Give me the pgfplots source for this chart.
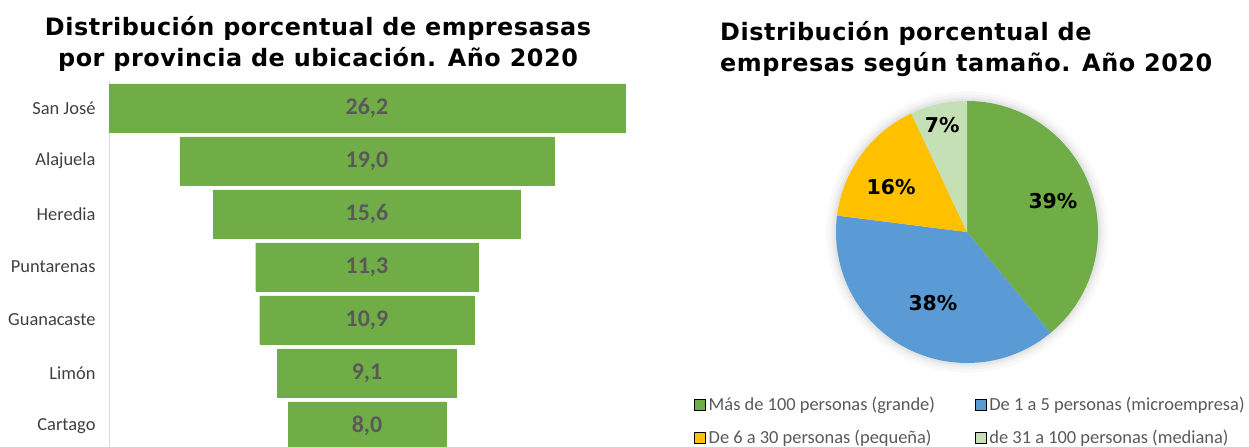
\documentclass[border=0pt]{standalone}
\usepackage{fontspec}
\setmainfont{Carlito}
\newfontfamily\vfont{DejaVu Sans}[LetterSpace=2.2]
\newfontfamily\pfont{DejaVu Sans}
\usepackage{pgfplots}
\usepackage{pgfplotstable}
\pgfplotsset{compat=1.18}
\definecolor{gbar}{HTML}{70AD47}
\definecolor{pgreen}{HTML}{70AD47}
\definecolor{pblue}{HTML}{5B9BD5}
\definecolor{pyellow}{HTML}{FFC000}
\definecolor{plight}{HTML}{C5E0B4}
\definecolor{valgray}{HTML}{595959}
\definecolor{labgray}{HTML}{404040}
\definecolor{axgray}{HTML}{D9D9D9}

\pgfplotstableread{
y v name
0 26.2 {San José}
1 19.0 {Alajuela}
2 15.6 {Heredia}
3 11.3 {Puntarenas}
4 10.9 {Guanacaste}
5 9.1 {Limón}
6 8.0 {Cartago}
}\provdata

\pgfplotstableread{
p x y
39 0.656 0.237
38 -0.26 -0.542
16 -0.58 0.344
7 -0.19 0.817
}\piedata

\pgfplotstablegetelem{0}{p}\of\piedata \edef\pA{\pgfplotsretval}
\pgfplotstablegetelem{1}{p}\of\piedata \edef\pB{\pgfplotsretval}
\pgfplotstablegetelem{2}{p}\of\piedata \edef\pC{\pgfplotsretval}
\pgfplotstablegetelem{3}{p}\of\piedata \edef\pD{\pgfplotsretval}
\pgfmathsetmacro\aA{90}
\pgfmathsetmacro\aB{90-3.6*\pA}
\pgfmathsetmacro\aC{\aB-3.6*\pB}
\pgfmathsetmacro\aD{\aC-3.6*\pC}
\pgfmathsetmacro\aE{\aD-3.6*\pD}

\begin{document}%
\begin{tikzpicture}[x=1bp,y=1bp]

% titles
\node[anchor=north, align=center, inner sep=0, font=\vfont\bfseries\fontsize{24}{31}\selectfont]
  at (318,431) {Distribución porcentual de empresasas\\por provincia de ubicación. Año 2020};
\node[anchor=north west, align=left, inner sep=0, font=\vfont\bfseries\fontsize{24}{31}\selectfont]
  at (720,426) {Distribución porcentual de\\empresas según tamaño. Año 2020};

% funnel
\begin{axis}[
  at={(109bp,0bp)}, anchor=south west, scale only axis,
  width=516bp, height=365.5bp,
  xmin=-13.1, xmax=13.1, ymin=-0.5, ymax=6.4, y dir=reverse,
  axis x line=none, axis y line*=left,
  y axis line style={draw=axgray, line width=1bp},
  ytick={0,...,6}, yticklabels from table={\provdata}{name},
  major tick length=0pt,
  yticklabel style={font=\fontsize{18.5}{18.5}\selectfont, text=labgray, xshift=-10bp},
  clip=false,
  bar width=48bp,
]
\addplot[xbar, bar shift=0pt, fill=gbar, draw=gbar, line width=0.3bp]
  table[x expr=\thisrow{v}/2, y=y] {\provdata};
\addplot[xbar, bar shift=0pt, fill=gbar, draw=gbar, line width=0.3bp]
  table[x expr=-\thisrow{v}/2, y=y] {\provdata};
\addplot[draw=none, mark=none, point meta=explicit,
  nodes near coords={\pgfmathprintnumber[fixed, fixed zerofill, precision=1, use comma, assume math mode=true]{\pgfplotspointmeta}},
  nodes near coords style={anchor=center, font=\bfseries\fontsize{24}{24}\selectfont, text=valgray}]
  table[x expr=0, y=y, meta=v] {\provdata};
\end{axis}

% pie
\begin{axis}[
  at={(967bp,215bp)}, anchor=origin, scale only axis,
  width=262bp, height=262bp,
  xmin=-1, xmax=1, ymin=-1, ymax=1,
  axis lines=none, clip=false,
  legend columns=2,
  legend style={at={(-0.555,-0.109)}, anchor=north west, draw=none, fill=none,
    font=\fontsize{18.5}{18.5}\selectfont, text=valgray,
    cells={anchor=west}, nodes={inner sep=3.5bp},
    /tikz/every even column/.append style={column sep=36bp},
    row sep=10.5bp},
  legend image code/.code={\fill[#1] (0bp,-5.5bp) rectangle (11bp,5.5bp);},
]
\fill[black, opacity=0.025] (axis cs:0,0) circle[radius=1.075];
\fill[black, opacity=0.025] (axis cs:0,0) circle[radius=1.05];
\fill[black, opacity=0.03] (axis cs:0,0) circle[radius=1.03];
\fill[black, opacity=0.03] (axis cs:0,0) circle[radius=1.015];
\fill[pgreen] (axis cs:0,0) -- (axis cs:{cos(\aA)},{sin(\aA)}) arc[start angle=\aA, end angle=\aB, radius=1] -- cycle;
\fill[pblue] (axis cs:0,0) -- (axis cs:{cos(\aB)},{sin(\aB)}) arc[start angle=\aB, end angle=\aC, radius=1] -- cycle;
\fill[pyellow] (axis cs:0,0) -- (axis cs:{cos(\aC)},{sin(\aC)}) arc[start angle=\aC, end angle=\aD, radius=1] -- cycle;
\fill[plight] (axis cs:0,0) -- (axis cs:{cos(\aD)},{sin(\aD)}) arc[start angle=\aD, end angle=\aE, radius=1] -- cycle;
\addplot[forget plot, draw=none, mark=none, point meta=explicit symbolic,
  nodes near coords={\pgfplotspointmeta\%},
  nodes near coords style={anchor=center, font=\pfont\bfseries\fontsize{20.5}{20.5}\selectfont, text=black}]
  table[x=x, y=y, meta=p] {\piedata};
\addlegendimage{fill=pgreen}
\addlegendentry{Más de 100 personas (grande)}
\addlegendimage{fill=pblue}
\addlegendentry{De 1 a 5 personas (microempresa)}
\addlegendimage{fill=pyellow}
\addlegendentry{De 6 a 30 personas (pequeña)}
\addlegendimage{fill=plight}
\addlegendentry{de 31 a 100 personas (mediana)}
\end{axis}
\pgfresetboundingbox
\path (0,0) rectangle (1249,447);
\end{tikzpicture}%
\end{document}
